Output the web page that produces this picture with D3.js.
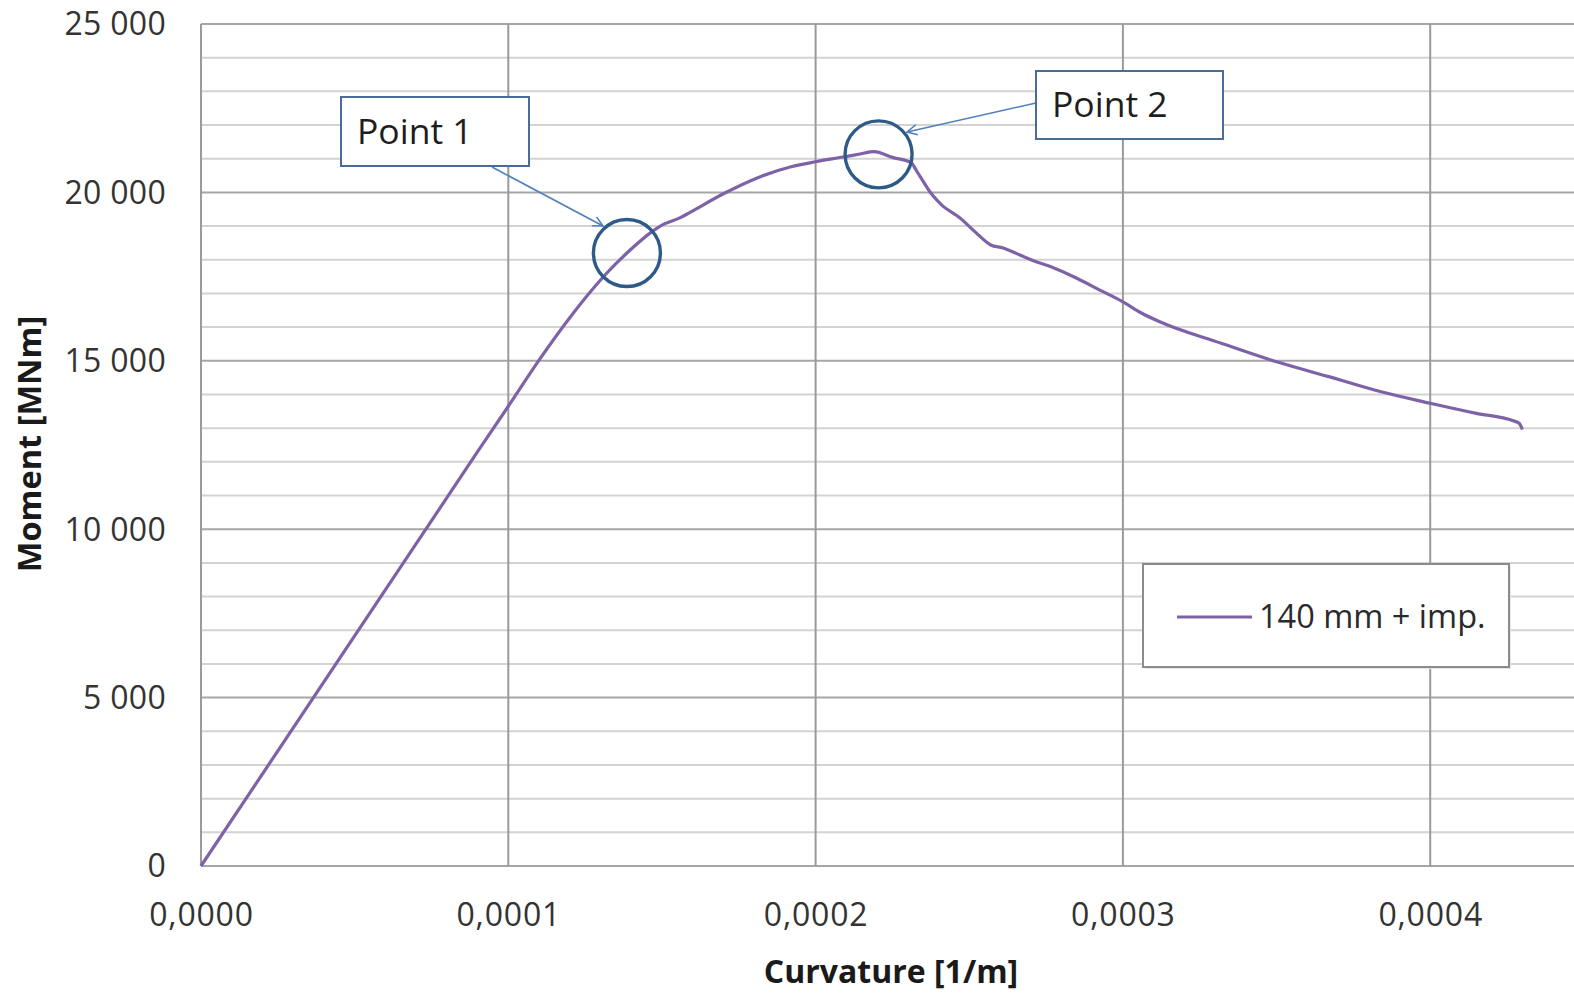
<!DOCTYPE html>
<html>
<head>
<meta charset="utf-8">
<script src="https://cdn.jsdelivr.net/npm/d3@7"></script>
<style>
  html, body { margin: 0; padding: 0; background: #fff; overflow: hidden; }
  svg { display: block; }
  text { font-family: "Open Sans", "Noto Sans", sans-serif; }
</style>
</head>
<body>
<svg id="chart" width="1574" height="994"></svg>
<script>
// Moment–curvature response, 140 mm + imperfection
const curvature = [0, 0.00009, 0.0001, 0.00011, 0.00012, 0.000127, 0.000132, 0.0001386, 0.000147,
  0.00015, 0.000156, 0.000159, 0.00017, 0.000181, 0.000192, 0.0002, 0.000209, 0.0002145, 0.000219,
  0.000225, 0.000231, 0.000233, 0.000238, 0.000241, 0.000247, 0.000252, 0.000257, 0.000261,
  0.0002665, 0.000272, 0.000277, 0.000285, 0.0002925, 0.0003, 0.000306, 0.000312, 0.000332,
  0.00035, 0.000367, 0.000384, 0.0004, 0.000415, 0.000427, 0.000429, 0.00043];
const moment = [0, 12300, 13650, 15020, 16280, 17080, 17600, 18200, 18850,
  19030, 19250, 19400, 19960, 20430, 20760, 20910, 21050, 21140, 21210,
  21040, 20890, 20620, 19920, 19630, 19240, 18820, 18440, 18350,
  18140, 17930, 17780, 17450, 17100, 16750, 16420, 16160, 15520,
  14970, 14530, 14080, 13740, 13440, 13220, 13140, 12960];

const seriesName = "140 mm + imp.";
const xTicks = [0, 0.0001, 0.0002, 0.0003, 0.0004];
const yTicks = [0, 5000, 10000, 15000, 20000, 25000];
const yMinorStep = 1000;
const xTitle = "Curvature [1/m]";
const yTitle = "Moment [MNm]";

// Callout annotations: marked point on the curve and label box
const calloutNames = ["Point 1", "Point 2"];
const calloutCurvature = [0.0001386, 0.0002205];
const calloutMoment = [18200, 21130];

const svg = d3.select("#chart");
const W = 1574, H = 994;
const plot = { left: 201, top: 24, bottom: 866 };
const pxPerTick = 307.3;

const x = d3.scaleLinear().domain([0, 0.00045]).range([plot.left, plot.left + 4.5 * pxPerTick]);
const y = d3.scaleLinear().domain([0, 25000]).range([plot.bottom, plot.top]);

const loc = d3.formatLocale({ decimal: ",", thousands: " ", grouping: [3], currency: ["", ""] });
const fmtY = loc.format(",d");
const fmtX = loc.format(".4f");

// Horizontal gridlines (minor every 1000, major every 5000)
const minor = d3.range(0, 25001, yMinorStep).filter(v => v % 5000 !== 0);
svg.append("g").selectAll("line").data(minor).join("line")
  .attr("x1", plot.left).attr("x2", W)
  .attr("y1", d => y(d)).attr("y2", d => y(d))
  .attr("stroke", "#d3d3d3").attr("stroke-width", 2);
svg.append("g").selectAll("line").data(yTicks).join("line")
  .attr("x1", plot.left).attr("x2", W)
  .attr("y1", d => y(d)).attr("y2", d => y(d))
  .attr("stroke", "#a6a6a6").attr("stroke-width", 2);

// Vertical gridlines
svg.append("g").selectAll("line").data(xTicks).join("line")
  .attr("x1", d => x(d)).attr("x2", d => x(d))
  .attr("y1", plot.top).attr("y2", plot.bottom)
  .attr("stroke", "#9a9a9a").attr("stroke-width", 2);

// Tick labels via axes (tick lines and domain hidden)
const yAxis = d3.axisLeft(y).tickValues(yTicks).tickFormat(fmtY).tickSize(0).tickPadding(0);
const gy = svg.append("g").attr("transform", "translate(166,0)").call(yAxis);
gy.select(".domain").remove();
gy.selectAll("text").attr("font-size", 32).attr("fill", "#333")
  .attr("font-family", "'Open Sans', sans-serif").attr("dy", "0.34em")
  .attr("letter-spacing", "0.3px");

const xAxis = d3.axisBottom(x).tickValues(xTicks).tickFormat(fmtX).tickSize(0).tickPadding(0);
const gx = svg.append("g").attr("transform", "translate(0,915)").call(xAxis);
gx.select(".domain").remove();
gx.selectAll("text").attr("font-size", 32).attr("fill", "#333")
  .attr("font-family", "'Open Sans', sans-serif").attr("dy", "0.34em")
  .attr("letter-spacing", "0.8px");

// Axis titles
svg.append("text").attr("x", 891).attr("y", 972).attr("dy", "0.35em")
  .attr("text-anchor", "middle").attr("font-size", 32).attr("font-weight", "bold")
  .attr("fill", "#1a1a1a").text(xTitle);
svg.append("text").attr("transform", "translate(30,444) rotate(-90)").attr("dy", "0.35em")
  .attr("text-anchor", "middle").attr("font-size", 32.5).attr("font-weight", "bold")
  .attr("fill", "#1a1a1a").text(yTitle);

// Curve
const pts = curvature.map((c, i) => [c, moment[i]]);
const line = d3.line().x(d => x(d[0])).y(d => y(d[1])).curve(d3.curveMonotoneX);
svg.append("path").datum(pts).attr("d", line)
  .attr("fill", "none").attr("stroke", "#7e62a8").attr("stroke-width", 3.2)
  .attr("stroke-linejoin", "round");

// Legend
const lg = svg.append("g");
lg.append("rect").attr("x", 1145).attr("y", 566).attr("width", 366).attr("height", 103)
  .attr("fill", "#e6e6e6");
lg.append("rect").attr("x", 1143).attr("y", 564).attr("width", 366).attr("height", 103)
  .attr("fill", "#fff").attr("stroke", "#8c8c8c").attr("stroke-width", 2);
lg.append("line").attr("x1", 1177).attr("x2", 1252).attr("y1", 617).attr("y2", 617)
  .attr("stroke", "#7e62a8").attr("stroke-width", 3.2);
lg.append("text").attr("x", 1259).attr("y", 617).attr("dy", "0.35em")
  .attr("font-size", 32.5).attr("fill", "#2a2a2a").text(seriesName);

// Callouts
const defs = svg.append("defs");
defs.append("marker").attr("id", "openArrow").attr("viewBox", "0 0 12 12")
  .attr("refX", 11).attr("refY", 6).attr("markerWidth", 12).attr("markerHeight", 12)
  .attr("markerUnits", "userSpaceOnUse").attr("orient", "auto")
  .append("path").attr("d", "M1,1 L11,6 L1,11").attr("fill", "none")
  .attr("stroke", "#4f81bd").attr("stroke-width", 1.6);

const boxes = [
  { x: 341, y: 97, w: 188, h: 69, tx: 357, from: [492, 167], tip: [603, 226] },
  { x: 1036, y: 71, w: 187, h: 68, tx: 1052, from: [1036, 103], tip: [907, 132] }
];
const circleR = 33.5;

calloutNames.forEach((name, i) => {
  const cx = x(calloutCurvature[i]), cy = y(calloutMoment[i]);
  const b = boxes[i];
  svg.append("line").attr("x1", b.from[0]).attr("y1", b.from[1])
    .attr("x2", b.tip[0]).attr("y2", b.tip[1])
    .attr("stroke", "#4f81bd").attr("stroke-width", 1.6)
    .attr("marker-end", "url(#openArrow)");
  svg.append("circle").attr("cx", cx).attr("cy", cy).attr("r", circleR)
    .attr("fill", "none").attr("stroke", "#2e5a88").attr("stroke-width", 3.4);
  svg.append("rect").attr("x", b.x).attr("y", b.y).attr("width", b.w).attr("height", b.h)
    .attr("fill", "#fff").attr("stroke", "#4a6c98").attr("stroke-width", 2);
  svg.append("text").attr("x", b.tx).attr("y", b.y + b.h / 2).attr("dy", "0.35em")
    .attr("font-size", 35.5).attr("fill", "#1e1e1e").text(name);
});
</script>
</body>
</html>
